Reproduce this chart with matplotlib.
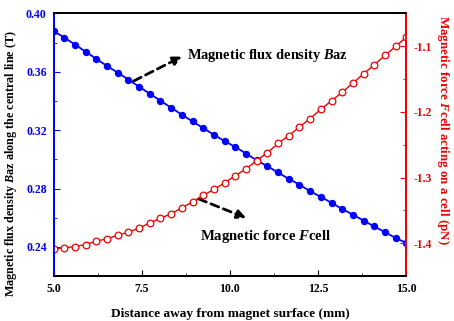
import numpy as np
import matplotlib
matplotlib.use('Agg')
import matplotlib.pyplot as plt
from matplotlib.ticker import MultipleLocator, FormatStrFormatter

# distance from the magnet surface (mm), 34 sample points
distance = np.linspace(5.0, 15.0, 34)

# magnetic flux density Baz along the central line (T)
baz = [0.3880, 0.3835, 0.3787, 0.3738, 0.3689, 0.3640, 0.3595, 0.3547,
       0.3498, 0.3450, 0.3402, 0.3354, 0.3306, 0.3260, 0.3214, 0.3169,
       0.3125, 0.3085, 0.3040, 0.2994, 0.2953, 0.2910, 0.2866, 0.2827,
       0.2781, 0.2743, 0.2702, 0.2660, 0.2621, 0.2580, 0.2540, 0.2501,
       0.2461, 0.2427]

# magnetic force Fcell acting on a cell (pN)
fcell = [-1.409, -1.407, -1.405, -1.402, -1.397, -1.393, -1.388, -1.383,
         -1.377, -1.369, -1.362, -1.355, -1.346, -1.337, -1.327, -1.318,
         -1.308, -1.297, -1.287, -1.274, -1.262, -1.248, -1.236, -1.223,
         -1.210, -1.196, -1.183, -1.170, -1.156, -1.142, -1.128, -1.114,
         -1.100, -1.086]

plt.rcParams['font.family'] = 'Liberation Serif'
plt.rcParams['font.weight'] = 'bold'
plt.rcParams['mathtext.fontset'] = 'custom'
plt.rcParams['mathtext.rm'] = 'Liberation Serif:bold'
plt.rcParams['mathtext.it'] = 'Liberation Serif:italic:bold'
plt.rcParams['mathtext.bf'] = 'Liberation Serif:bold'

blue = '#0000ff'
red = '#ee0000'

fig = plt.figure(figsize=(4.54, 3.21), dpi=100)
ax = fig.add_axes([0.118, 0.140, 0.777, 0.818])
ax2 = ax.twinx()

ax.plot(distance, baz, '-o', color=blue, lw=1.3, ms=4.3, mfc=blue, mec=blue)
ax2.plot(distance, fcell, '-o', color=red, lw=1.0, ms=4.8, mfc='white',
         mec=red, mew=0.9)

ax.set_xlim(5.0, 15.0)
ax.set_ylim(0.22, 0.40)
ax2.set_ylim(-1.45, -1.05)

ax.xaxis.set_major_locator(MultipleLocator(2.5))
ax.xaxis.set_minor_locator(MultipleLocator(1.25))
ax.xaxis.set_major_formatter(FormatStrFormatter('%.1f'))
ax.yaxis.set_major_locator(MultipleLocator(0.04))
ax.yaxis.set_minor_locator(MultipleLocator(0.02))
ax.yaxis.set_major_formatter(FormatStrFormatter('%.2f'))
ax2.yaxis.set_major_locator(MultipleLocator(0.1))
ax2.yaxis.set_minor_locator(MultipleLocator(0.05))
ax2.yaxis.set_major_formatter(FormatStrFormatter('%.1f'))

ax.tick_params(axis='x', which='both', direction='in', top=False,
               labelsize=8.5, pad=5, colors='black')
ax.tick_params(axis='x', which='major', length=4)
ax.tick_params(axis='x', which='minor', length=2.5)
ax.tick_params(axis='y', which='both', direction='in', colors=blue,
               labelsize=8.5, pad=5)
ax.tick_params(axis='y', which='major', length=4)
ax.tick_params(axis='y', which='minor', length=2.5)
ax2.tick_params(axis='y', which='both', direction='in', colors=red,
                labelsize=8.5, pad=5)
ax2.tick_params(axis='y', which='major', length=4)
ax2.tick_params(axis='y', which='minor', length=2.5)

for a in (ax, ax2):
    a.spines['left'].set_color(blue)
    a.spines['right'].set_color(red)
    for s in a.spines.values():
        s.set_linewidth(1.3)

ax.set_xlabel('Distance away from magnet surface (mm)', fontsize=9.6,
              fontweight='bold', labelpad=9)
ax.set_ylabel('Magnetic flux density $\\mathit{B}$az along the central line (T)',
              fontsize=8.7, fontweight='bold', va='center')
ax.yaxis.set_label_coords(-0.122, 0.43)
ax2.set_ylabel('Magnetic force $\\mathit{F}$cell acting on a cell (pN)',
               fontsize=9.4, fontweight='bold', color=red, rotation=270,
               va='center')
ax2.yaxis.set_label_coords(1.104, 0.555)

arrow = dict(arrowstyle='-|>', linestyle=(0, (3, 1.8)), lw=2.0, color='black',
             mutation_scale=13, shrinkA=0, shrinkB=0)
ax.annotate('', xy=(8.64, 0.3705), xytext=(7.27, 0.3537), arrowprops=arrow)
ax.annotate('', xy=(10.46, 0.2598), xytext=(9.11, 0.2729), arrowprops=arrow)
ax.text(8.79, 0.3713, 'Magnetic flux density $\\mathit{B}$az', fontsize=10.4,
        fontweight='bold', va='center', ha='left')
ax.text(9.14, 0.2472, 'Magnetic force $\\mathit{F}$cell', fontsize=10.6,
        fontweight='bold', va='center', ha='left')

fig.savefig('out.png', dpi=100)
